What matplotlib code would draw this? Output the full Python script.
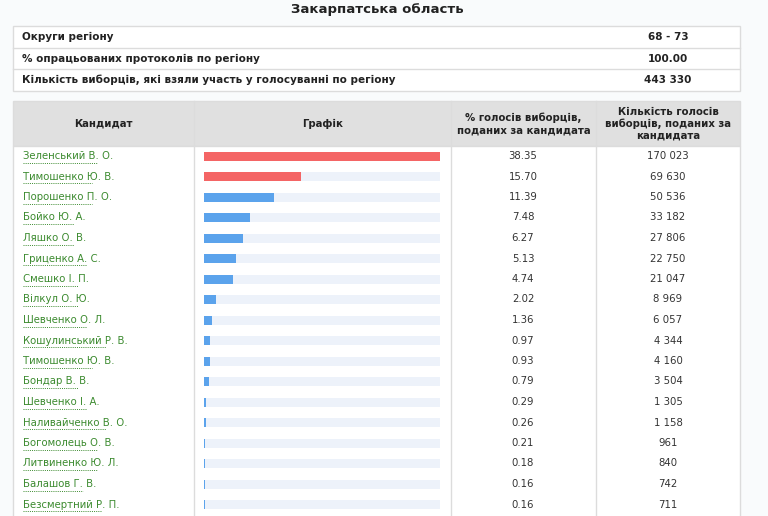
import matplotlib
matplotlib.use('Agg')
import matplotlib.pyplot as plt
from matplotlib.patches import Rectangle

plt.rcParams['font.family'] = ['DejaVu Sans']

title = 'Закарпатська область'
info_labels = ['Округи регіону', '% опрацьованих протоколів по регіону',
               'Кількість виборців, які взяли участь у голосуванні по регіону']
info_values = ['68 - 73', '100.00', '443 330']

candidates = ['Зеленський В. О.', 'Тимошенко Ю. В.', 'Порошенко П. О.', 'Бойко Ю. А.',
              'Ляшко О. В.', 'Гриценко А. С.', 'Смешко І. П.', 'Вілкул О. Ю.',
              'Шевченко О. Л.', 'Кошулинський Р. В.', 'Тимошенко Ю. В.', 'Бондар В. В.',
              'Шевченко І. А.', 'Наливайченко В. О.', 'Богомолець О. В.', 'Литвиненко Ю. Л.',
              'Балашов Г. В.', 'Безсмертний Р. П.']
percents = [38.35, 15.70, 11.39, 7.48, 6.27, 5.13, 4.74, 2.02, 1.36, 0.97, 0.93, 0.79,
            0.29, 0.26, 0.21, 0.18, 0.16, 0.16]
votes = ['170 023', '69 630', '50 536', '33 182', '27 806', '22 750', '21 047', '8 969',
         '6 057', '4 344', '4 160', '3 504', '1 305', '1 158', '961', '840', '742', '711']

fig = plt.figure(figsize=(7.68, 5.16), dpi=100)
fig.patch.set_facecolor('#f9fbfc')
ax = fig.add_axes([0, 0, 1, 1])
ax.set_xlim(0, 768)
ax.set_ylim(516, 0)
ax.axis('off')

border = '#dcdcdc'
ax.text(377, 9, title, ha='center', va='center', fontsize=9.5, fontweight='bold', color='#222')

# info table
ax.add_patch(Rectangle((13, 26), 727, 65, facecolor='white', edgecolor=border, lw=1))
for i, (lab, val) in enumerate(zip(info_labels, info_values)):
    yc = 37 + i * 21.5
    if i > 0:
        ax.plot([13, 740], [yc - 10.7, yc - 10.7], color=border, lw=1)
    ax.text(22, yc, lab, ha='left', va='center', fontsize=7.5, fontweight='bold', color='#222')
    ax.text(668, yc, val, ha='center', va='center', fontsize=7.5, fontweight='bold', color='#222')

# main table
cols = [13, 194, 451, 596, 740]
ax.add_patch(Rectangle((13, 101), 727, 45, facecolor='#e0e0e0', edgecolor=border, lw=1))
ax.add_patch(Rectangle((13, 146), 727, 380, facecolor='white', edgecolor=border, lw=1))
for x in cols[1:-1]:
    ax.plot([x, x], [101, 526], color=border, lw=1)
headers = ['Кандидат', 'Графік', '% голосів виборців,\nподаних за кандидата',
           'Кількість голосів\nвиборців, поданих за\nкандидата']
for i, h in enumerate(headers):
    ax.text((cols[i] + cols[i + 1]) / 2, 124, h, ha='center', va='center', fontsize=7.3,
            fontweight='bold', color='#222', linespacing=1.2)

row_h = 20.5
ys = [156 + i * row_h for i in range(len(candidates))]
bar_x0, bar_w = 204, 236
scale = bar_w / max(percents)
ax.barh(ys, [bar_w] * len(ys), left=bar_x0, height=9, color='#edf2fa')
colors = ['#f46565' if i < 2 else '#5ba3ec' for i in range(len(percents))]
ax.barh(ys, [p * scale for p in percents], left=bar_x0, height=9, color=colors)

for i, y in enumerate(ys):
    t = ax.text(23, y, candidates[i], ha='left', va='center', fontsize=7.3, color='#3b8a2e')
    ax.text(523, y, f'{percents[i]:.2f}', ha='center', va='center', fontsize=7.3, color='#333')
    ax.text(668, y, votes[i], ha='center', va='center', fontsize=7.3, color='#333')
    w = len(candidates[i]) * 4.6
    ax.plot([23, 23 + w], [y + 6.5, y + 6.5], color='#3b8a2e', lw=0.7, ls=(0, (1, 1.2)))

fig.savefig('out.png', dpi=100, facecolor=fig.get_facecolor())
